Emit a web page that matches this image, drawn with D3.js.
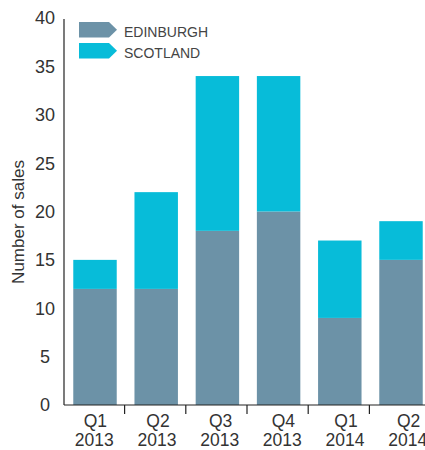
<!DOCTYPE html>
<html>
<head>
<meta charset="utf-8">
<script src="https://cdn.jsdelivr.net/npm/d3@7"></script>
<style>
  body { margin: 0; background: #fff; }
  text { font-family: "Liberation Sans", Arial, sans-serif; }
</style>
</head>
<body>
<div id="chart"></div>
<script>
// data
var quarters = ["Q1", "Q2", "Q3", "Q4", "Q1", "Q2"];
var years = ["2013", "2013", "2013", "2013", "2014", "2014"];
var edinburgh = [12, 12, 18, 20, 9, 15];
var scotland = [3, 10, 16, 14, 8, 4];   // stacked on top of Edinburgh
var yTicks = [0, 5, 10, 15, 20, 25, 30, 35, 40];
var seriesNames = ["EDINBURGH", "SCOTLAND"];
var colors = ["#6c92a7", "#07bcd9"];

var W = 425, H = 450;

const svg = d3.select("#chart")
    .append("svg")
    .attr("width", W)
    .attr("height", H);

var rows = quarters.map(function(q, i) {
  return {key: i, edinburgh: edinburgh[i], scotland: scotland[i]};
});

var x = d3.scaleBand()
    .domain(rows.map(d => d.key))
    .range([64.4, 431.6])
    .paddingInner(0.29)
    .paddingOuter(0.145);

// the category labels sit on a slightly wider spacing than the bars
var xLab = d3.scaleBand()
    .domain(rows.map(d => d.key))
    .range([63, 439]);

var y = d3.scaleLinear()
    .domain([0, 40])
    .range([405, 18]);

var stack = d3.stack().keys(["edinburgh", "scotland"]);
var layers = stack(rows);

// bars
svg.append("g")
  .selectAll("g")
  .data(layers)
  .join("g")
    .attr("fill", (d, i) => colors[i])
  .selectAll("rect")
  .data(d => d)
  .join("rect")
    .attr("x", d => x(d.data.key))
    .attr("width", x.bandwidth())
    .attr("y", d => y(d[1]))
    .attr("height", d => y(d[0]) - y(d[1]));

// y axis: plain line plus centred labels
svg.append("line")
    .attr("x1", 64).attr("x2", 64)
    .attr("y1", 19).attr("y2", y(0))
    .attr("stroke", "#222").attr("stroke-width", 1.2);

svg.append("g")
  .selectAll("text")
  .data(yTicks)
  .join("text")
    .attr("x", 45)
    .attr("y", d => y(d))
    .attr("dy", "0.36em")
    .attr("text-anchor", "middle")
    .attr("font-size", 18)
    .attr("fill", "#333")
    .text(d => d);

svg.append("text")
    .attr("transform", "translate(24," + 222 + ") rotate(-90)")
    .attr("text-anchor", "middle")
    .attr("font-size", 17)
    .attr("fill", "#333")
    .text("Number of sales");

// x axis
svg.append("line")
    .attr("x1", 64).attr("x2", W)
    .attr("y1", y(0)).attr("y2", y(0))
    .attr("stroke", "#222").attr("stroke-width", 1.2);

var gap = x.step() - x.bandwidth();
svg.append("g")
  .selectAll("line")
  .data(rows.slice(0, rows.length - 1))
  .join("line")
    .attr("x1", d => x(d.key) + x.bandwidth() + gap / 2 - 1)
    .attr("x2", d => x(d.key) + x.bandwidth() + gap / 2 - 1)
    .attr("y1", y(0)).attr("y2", y(0) + 9)
    .attr("stroke", "#222").attr("stroke-width", 1.2);

// two-line category labels
svg.append("g")
  .selectAll("text.q")
  .data(rows)
  .join("text")
    .attr("class", "q")
    .attr("x", d => xLab(d.key) + xLab.bandwidth() / 2 + 1)
    .attr("y", 427)
    .attr("text-anchor", "middle")
    .attr("font-size", 17.5)
    .attr("fill", "#333")
    .text(d => quarters[d.key]);

svg.append("g")
  .selectAll("text.yr")
  .data(rows)
  .join("text")
    .attr("class", "yr")
    .attr("x", d => xLab(d.key) + xLab.bandwidth() / 2)
    .attr("y", 446)
    .attr("text-anchor", "middle")
    .attr("font-size", 17.5)
    .attr("fill", "#333")
    .text(d => years[d.key]);

// legend with arrow shaped keys
var legend = svg.append("g")
  .selectAll("g")
  .data(seriesNames)
  .join("g")
    .attr("transform", (d, i) => "translate(79," + (22 + i * 21) + ")");

legend.append("path")
    .attr("d", "M0,0 L30,0 L38,7.75 L30,15.5 L0,15.5 Z")
    .attr("fill", (d, i) => colors[i]);

legend.append("text")
    .attr("x", 45)
    .attr("y", 14.5)
    .attr("font-size", 14)
    .attr("fill", "#444")
    .text(d => d);
</script>
</body>
</html>
